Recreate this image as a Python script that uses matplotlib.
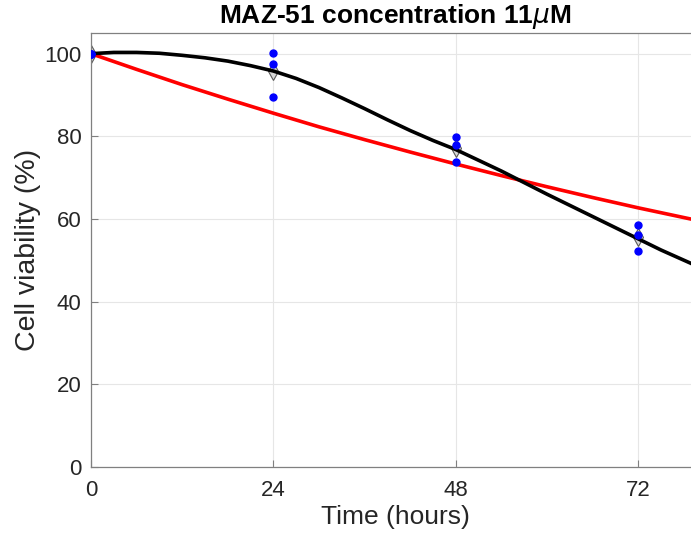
import numpy as np
import matplotlib.pyplot as plt

plt.rcParams['font.family'] = ['Liberation Sans', 'DejaVu Sans']

# measured replicates (time in hours, viability in %)
rep_time = [0, 0, 0, 24, 24, 24, 48, 48, 48, 72, 72, 72]
rep_viab = [100, 100, 100, 100.1, 97.6, 89.6, 79.8, 77.8, 73.7, 58.5, 56.2, 52.3]

# means of the replicates
mean_time = [0, 24, 48, 72]
mean_viab = [100, 95.8, 77.1, 55.7]

# red fit curve
red_time = [0, 6, 12, 18, 24, 30, 36, 42, 48, 54, 60, 66, 72, 78.9]
red_viab = [100, 96.2, 92.5, 89.0, 85.6, 82.3, 79.2, 76.2, 73.3, 70.5, 67.8, 65.2, 62.7, 60.0]

# black fit curve
blk_time = [0, 3, 6, 9, 12, 15, 18, 21, 24, 27, 30, 33, 36, 39, 42, 45, 48,
            51, 54, 57, 60, 63, 66, 69, 72, 75, 78.9]
blk_viab = [100, 100.3, 100.3, 100.1, 99.6, 99.0, 98.2, 97.1, 95.8, 94.0, 91.8,
            89.3, 86.7, 84.0, 81.4, 79.0, 76.8, 74.2, 71.6, 68.8, 66.0, 63.3,
            60.6, 57.9, 55.2, 52.5, 49.3]

xticks = [0, 24, 48, 72]
yticks = [0, 20, 40, 60, 80, 100]

fig = plt.figure(figsize=(6.91, 5.44), dpi=100)
ax = fig.add_axes([91 / 691, 1 - 467 / 544, (699 - 91) / 691, (467 - 33) / 544])

ax.plot(mean_time, mean_viab, linestyle='none', marker='d', markersize=9,
        markerfacecolor='#d9d9d9', markeredgecolor='#595959', markeredgewidth=0.8, zorder=2)
ax.plot(red_time, red_viab, color='#ff0000', linewidth=2.6, zorder=3)
ax.plot(blk_time, blk_viab, color='black', linewidth=2.6, zorder=4)
ax.plot(rep_time, rep_viab, linestyle='none', marker='o', markersize=5,
        color='#0000ff', zorder=5)

ax.set_xlim(0, 80)
ax.set_ylim(0, 105)
ax.set_xticks(xticks)
ax.set_yticks(yticks)
ax.grid(True, color='#e6e6e6', linewidth=0.8)
ax.set_axisbelow(True)

for side in ['left', 'bottom', 'top']:
    ax.spines[side].set_color('#808080')
    ax.spines[side].set_linewidth(0.9)
ax.spines['right'].set_visible(False)

ax.tick_params(direction='in', length=5, width=0.8, color='#808080',
               labelsize=16, labelcolor='#262626', top=False)
ax.tick_params(axis='x', pad=9)
ax.tick_params(axis='y', pad=7)

ax.set_xlabel('Time (hours)', fontsize=19, color='#262626', labelpad=3)
ax.set_ylabel('Cell viability (%)', fontsize=20.5, color='#262626', labelpad=2)

ax.set_title(r'MAZ-51 concentration 11$\mu$M', fontsize=19, fontweight='bold', pad=7)

fig.savefig('out.png', dpi=100)
